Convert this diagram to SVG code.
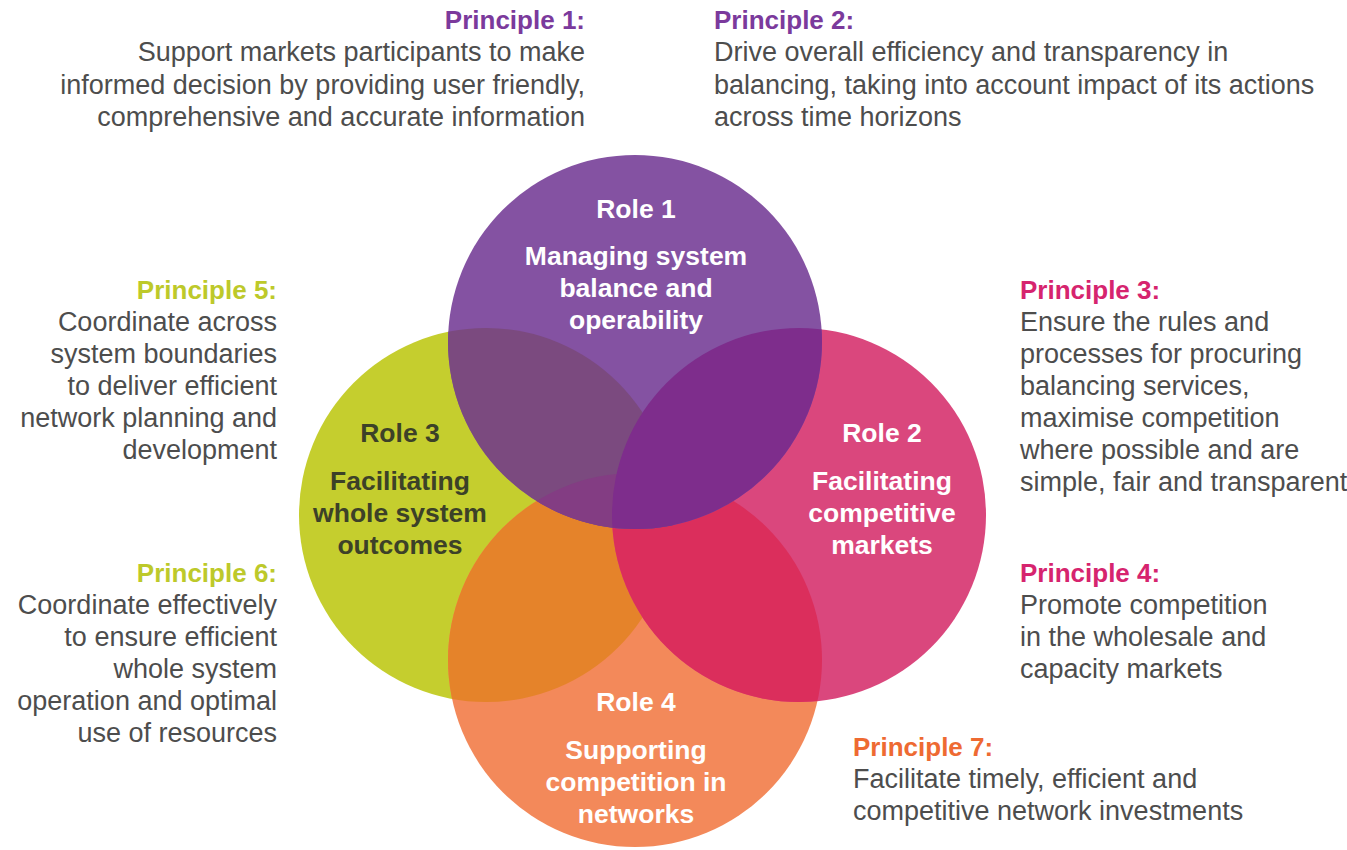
<svg xmlns="http://www.w3.org/2000/svg" width="1347" height="850" viewBox="0 0 1347 850">
<style>
text{font-family:"Liberation Sans",Arial,sans-serif;}
.hd{font-weight:bold;font-size:26px;}
.bd{font-size:27px;fill:#4d4d4d;}
.rl{font-weight:bold;font-size:26.5px;fill:#ffffff;text-anchor:middle;}
.rd{font-weight:bold;font-size:26.5px;fill:#3c4128;text-anchor:middle;}
.r{text-anchor:end;}
.pu{fill:#7b3a9c;}
.pk{fill:#d6246e;}
.yg{fill:#bdc92a;}
.or{fill:#ee6a32;}
</style>
<defs>
<clipPath id="cY"><circle cx="486" cy="515" r="187"/></clipPath>
<clipPath id="cP"><circle cx="799" cy="515" r="187"/></clipPath>
<clipPath id="cO"><circle cx="635" cy="660" r="187"/></clipPath>
<clipPath id="cU"><circle cx="635" cy="342" r="187"/></clipPath>
</defs>
<rect width="1347" height="850" fill="#ffffff"/>
<g id="circles">
<circle id="role3-circle" cx="486" cy="515" r="187" fill="#c5ce2e"/>
<circle id="role4-circle" cx="635" cy="660" r="187" fill="#f3895a"/>
<g clip-path="url(#cY)"><circle cx="635" cy="660" r="187" fill="#e5832a"/></g>
<circle id="role2-circle" cx="799" cy="515" r="187" fill="#da477d"/>
<g clip-path="url(#cO)"><circle cx="799" cy="515" r="187" fill="#db2e5c"/></g>
<circle id="role1-circle" cx="635" cy="342" r="187" fill="#8452a2"/>
<g clip-path="url(#cY)"><circle cx="635" cy="342" r="187" fill="#7b4a7f"/></g>
<g clip-path="url(#cY)"><g clip-path="url(#cO)"><circle cx="635" cy="342" r="187" fill="#833d83"/></g></g>
<g clip-path="url(#cP)"><circle cx="635" cy="342" r="187" fill="#7e2d8c"/></g>
</g>
<g id="role1">
<text class="rl" x="636" y="218">Role 1</text>
<text class="rl" x="636" y="265">Managing system</text>
<text class="rl" x="636" y="297">balance and</text>
<text class="rl" x="636" y="329">operability</text>
</g>
<g id="role2">
<text class="rl" x="882" y="442">Role 2</text>
<text class="rl" x="882" y="490">Facilitating</text>
<text class="rl" x="882" y="522">competitive</text>
<text class="rl" x="882" y="554">markets</text>
</g>
<g id="role3">
<text class="rd" x="400" y="442">Role 3</text>
<text class="rd" x="400" y="490">Facilitating</text>
<text class="rd" x="400" y="522">whole system</text>
<text class="rd" x="400" y="554">outcomes</text>
</g>
<g id="role4">
<text class="rl" x="636" y="711">Role 4</text>
<text class="rl" x="636" y="759">Supporting</text>
<text class="rl" x="636" y="791">competition in</text>
<text class="rl" x="636" y="823">networks</text>
</g>
<g id="principle1">
<text class="hd pu r" x="585" y="29">Principle 1:</text>
<text class="bd r" x="585" y="61">Support markets participants to make</text>
<text class="bd r" x="585" y="94">informed decision by providing user friendly,</text>
<text class="bd r" x="585" y="126">comprehensive and accurate information</text>
</g>
<g id="principle2">
<text class="hd pu" x="714" y="29">Principle 2:</text>
<text class="bd" x="714" y="61">Drive overall efficiency and transparency in</text>
<text class="bd" x="714" y="94">balancing, taking into account impact of its actions</text>
<text class="bd" x="714" y="126">across time horizons</text>
</g>
<g id="principle3">
<text class="hd pk" x="1020" y="299">Principle 3:</text>
<text class="bd" x="1020" y="331">Ensure the rules and</text>
<text class="bd" x="1020" y="363">processes for procuring</text>
<text class="bd" x="1020" y="395">balancing services,</text>
<text class="bd" x="1020" y="427">maximise competition</text>
<text class="bd" x="1020" y="459">where possible and are</text>
<text class="bd" x="1020" y="491">simple, fair and transparent</text>
</g>
<g id="principle4">
<text class="hd pk" x="1020" y="582">Principle 4:</text>
<text class="bd" x="1020" y="614">Promote competition</text>
<text class="bd" x="1020" y="646">in the wholesale and</text>
<text class="bd" x="1020" y="678">capacity markets</text>
</g>
<g id="principle5">
<text class="hd yg r" x="277" y="299">Principle 5:</text>
<text class="bd r" x="277" y="331">Coordinate across</text>
<text class="bd r" x="277" y="363">system boundaries</text>
<text class="bd r" x="277" y="395">to deliver efficient</text>
<text class="bd r" x="277" y="427">network planning and</text>
<text class="bd r" x="277" y="459">development</text>
</g>
<g id="principle6">
<text class="hd yg r" x="277" y="582">Principle 6:</text>
<text class="bd r" x="277" y="614">Coordinate effectively</text>
<text class="bd r" x="277" y="646">to ensure efficient</text>
<text class="bd r" x="277" y="678">whole system</text>
<text class="bd r" x="277" y="710">operation and optimal</text>
<text class="bd r" x="277" y="742">use of resources</text>
</g>
<g id="principle7">
<text class="hd or" x="853" y="756">Principle 7:</text>
<text class="bd" x="853" y="788">Facilitate timely, efficient and</text>
<text class="bd" x="853" y="820">competitive network investments</text>
</g>
</svg>
